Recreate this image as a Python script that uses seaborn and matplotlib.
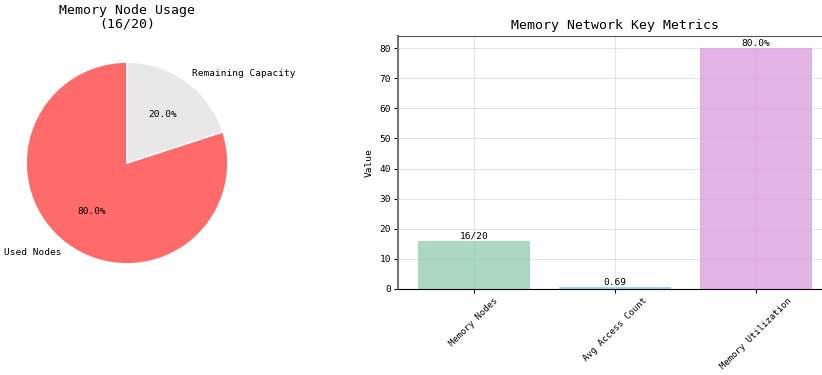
import matplotlib
matplotlib.use("Agg")
import matplotlib.pyplot as plt
import seaborn as sns
import pandas as pd

# Memory node usage
pie_labels = ["Used Nodes", "Remaining Capacity"]
pie_values = [16, 4]
pie_colors = ["#FF6B6B", "#E8E8E8"]

# Key metrics
metric_names = ["Memory Nodes", "Avg Access Count", "Memory Utilization"]
metric_values = [16, 0.69, 80.0]
metric_texts = ["16/20", "0.69", "80.0%"]
metric_colors = ["#96CEB4", "#87CEEB", "#DDA0DD"]

sns.set_style("ticks")
plt.rcParams["font.family"] = ["DejaVu Sans Mono"]
for key in ["text.color", "axes.labelcolor", "xtick.color", "ytick.color"]:
    plt.rcParams[key] = "black"

fig = plt.figure(figsize=(8.22, 3.75), dpi=100)

# --- pie ---
ax1 = fig.add_axes([1 / 822, 86 / 375, 252 / 822, 252 / 375])
ax1.pie(pie_values, labels=pie_labels, colors=pie_colors, autopct="%1.1f%%",
        startangle=90, textprops={"fontsize": 6.8})
ax1.set_title("Memory Node Usage\n(16/20)", fontsize=9.5, pad=7, linespacing=1.0)
ax1.set_aspect("equal")

# --- bars ---
ax2 = fig.add_axes([398 / 822, 86 / 375, 434 / 822, 253 / 375])
df = pd.DataFrame({"metric": metric_names, "value": metric_values})
sns.barplot(data=df, x="metric", y="value", hue="metric", palette=metric_colors,
            saturation=1, alpha=0.8, width=0.8, linewidth=0, edgecolor="none",
            legend=False, ax=ax2, zorder=2)
ax2.set_xlim(-0.54, 2.54)
ax2.set_ylim(0, 84)
ax2.set_yticks(range(0, 81, 10))
ax2.grid(True, color="#cccccc", alpha=0.5, linewidth=0.8, zorder=0)
ax2.set_axisbelow(True)
ax2.set_title("Memory Network Key Metrics", fontsize=9.5, pad=5)
ax2.set_xlabel("")
ax2.set_ylabel("Value", fontsize=6.8, labelpad=4)
ax2.tick_params(axis="y", labelsize=6.8, length=3, pad=2)
ax2.tick_params(axis="x", labelsize=6.4, length=3, pad=2)
for lbl in ax2.get_xticklabels():
    lbl.set_rotation(45)
    lbl.set_ha("center")
for s in ["top", "right"]:
    ax2.spines[s].set_visible(True)
    ax2.spines[s].set_color("#555555")
    ax2.spines[s].set_linewidth(0.8)
ax2.spines["left"].set_color("#777777")
ax2.spines["left"].set_linewidth(1.5)
ax2.spines["bottom"].set_color("black")
ax2.spines["bottom"].set_linewidth(0.8)

for patch, txt in zip(ax2.patches, metric_texts):
    ax2.text(patch.get_x() + patch.get_width() / 2, patch.get_height(), txt,
             ha="center", va="bottom", fontsize=6.8)

fig.savefig("out.png", dpi=100)
